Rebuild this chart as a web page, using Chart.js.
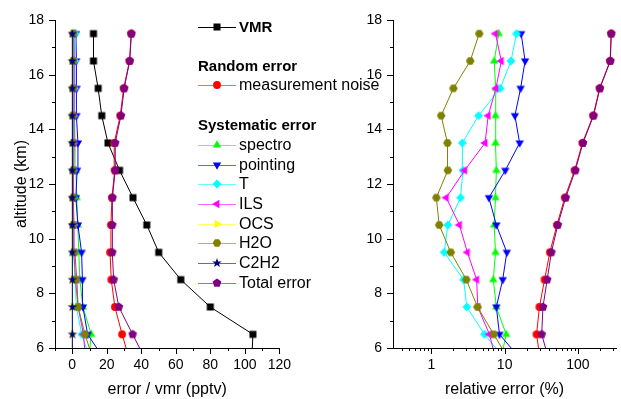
<!DOCTYPE html>
<html>
<head>
<meta charset="utf-8">
<script src="https://cdn.jsdelivr.net/npm/chart.js@4.4.1/dist/chart.umd.min.js"></script>
<style>
  body { margin: 0; background: #fff; }
  #wrap { position: relative; width: 621px; height: 399px; font-family: 'Liberation Sans', Arial, sans-serif; }
  .box { position: absolute; top: 0; height: 399px; }
  #legend .row { position: absolute; left: 198px; height: 20px; line-height: 20px; font-size: 16px; color: #000; white-space: nowrap; }
  #legend .row canvas { position: absolute; left: 0; top: 4px; }
  #legend .row span { position: absolute; left: 41px; top: 0; }
  #legend .head { font-weight: bold; font-size: 15px; }
  #legend .head span { left: 0; }
</style>
</head>
<body>
<div id="wrap">
  <div class="box" style="left:0;width:300px"><canvas id="absChart"></canvas></div>
  <div class="box" style="left:310px;width:311px"><canvas id="relChart"></canvas></div>
  <div id="legend"></div>
</div>
<script>
// altitude levels (km); 5.5 only carries the line down to the axis
const altitude = [5.5, 6.5, 7.5, 8.5, 9.5, 10.5, 11.5, 12.5, 13.5, 14.5, 15.5, 16.5, 17.5];

// left panel: error / vmr (pptv)
const vmr      = [104, 104.7, 80, 62.9, 50.1, 43.2, 35.2, 27.4, 20.7, 17.1, 15, 12.3, 12.3];
const noise    = [33.5, 28.9, 24.7, 22.6, 21.9, 22.4, 23.0, 24.6, 24.3, 27.8, 29.8, 33.2, 34.1];
const spectro  = [9.5, 11.0, 6.2, 4.4, 3.8, 3.2, 2.6, 2.1, 1.6, 1.3, 1.1, 0.9, 1.0];
const pointing = [19.5, 8.9, 6.2, 5.9, 5.4, 3.3, 2.1, 2.8, 3.3, 2.4, 2.5, 2.3, 2.1];
const tempErr  = [10.8, 5.5, 2.4, 1.7, 0.75, 0.73, 0.88, 0.74, 0.55, 0.75, 1.3, 1.5, 1.8];
const ils      = [7.8, 6.5, 3.4, 2.6, 1.55, 1.05, 0.56, 0.78, 1.1, 1.0, 1.1, 1.1, 0.9];
const ocs      = [0.1, 0.1, 0.1, 0.1, 0.08, 0.08, 0.08, 0.06, 0.06, 0.06, 0.05, 0.05, 0.05];
const h2o      = [12.4, 7.4, 3.4, 1.9, 0.92, 0.55, 0.41, 0.46, 0.34, 0.23, 0.3, 0.42, 0.55];
const c2h2     = [0.1, 0.1, 0.1, 0.05, 0.05, 0.05, 0.05, 0.05, 0.05, 0.05, 0.05, 0.05, 0.05];
const total    = [43, 35, 27, 24, 23.2, 23.2, 23.3, 24.9, 24.9, 28.2, 30.1, 33.3, 34.3];

// right panel: relative error (%)
const noiseRel    = [30.8, 27.2, 29.8, 35, 41.3, 51.6, 66, 90, 115, 161, 197, 274, 283];
const spectroRel  = [8.7, 10.5, 7.7, 7.0, 7.5, 7.2, 7.5, 7.7, 7.5, 7.5, 7.6, 7.2, 8.3];
const pointingRel = [17.7, 8.5, 7.7, 9.4, 10.7, 7.7, 6.1, 10.2, 16, 13.8, 16.5, 19, 16.8];
const tempRel     = [10.8, 5.3, 3.05, 2.75, 1.5, 1.68, 2.5, 2.7, 2.65, 4.4, 8.7, 12.2, 14.5];
const ilsRel      = [7.7, 6.2, 4.3, 4.15, 3.1, 2.42, 1.6, 2.85, 5.4, 5.97, 7.6, 9.0, 7.5];
const h2oRel      = [11.8, 7.1, 4.27, 3.0, 1.84, 1.28, 1.17, 1.68, 1.66, 1.36, 2.0, 3.39, 4.5];
const totalRel    = [40.8, 32, 33.3, 38, 43.4, 53, 68, 92, 117, 163, 199, 276, 285];

// ticks
const altTicks = [6, 8, 10, 12, 14, 16, 18];
const altMinor = [7, 9, 11, 13, 15, 17];
const absTicks = [0, 20, 40, 60, 80, 100, 120];
const absMinor = [-10, 10, 30, 50, 70, 90, 110];
const relTicks = [1, 10, 100];
const relMinor = [0.4, 0.5, 0.6, 0.7, 0.8, 0.9, 2, 3, 4, 5, 6, 7, 8, 9,
                  20, 30, 40, 50, 60, 70, 80, 90, 200, 300];

const FONT = "'Liberation Sans', Arial, sans-serif";

// filled marker shapes, drawn once into small canvases
function marker(shape, color) {
  const s = 12, m = s / 2;
  const c = document.createElement('canvas');
  c.width = c.height = s;
  const g = c.getContext('2d');
  g.fillStyle = color;
  g.beginPath();
  const poly = (n, r, rot, inner) => {
    const k = inner ? n * 2 : n;
    for (let i = 0; i < k; i++) {
      const rr = inner && i % 2 ? inner : r;
      const a = rot + i * 2 * Math.PI / k;
      g.lineTo(m + rr * Math.cos(a), m + rr * Math.sin(a));
    }
    g.closePath();
  };
  switch (shape) {
    case 'square': g.rect(m - 3.5, m - 3.5, 7, 7); break;
    case 'circle': g.arc(m, m, 3.9, 0, 2 * Math.PI); break;
    case 'up': poly(3, 4.8, -Math.PI / 2); break;
    case 'down': poly(3, 4.8, Math.PI / 2); break;
    case 'left': poly(3, 4.8, Math.PI); break;
    case 'right': poly(3, 4.8, 0); break;
    case 'diamond': poly(4, 4.4, -Math.PI / 2); break;
    case 'hexagon': poly(6, 4.3, 0); break;
    case 'pentagon': poly(5, 4.6, -Math.PI / 2); break;
    case 'star': poly(5, 5, -Math.PI / 2, 2); break;
  }
  g.fill();
  return c;
}

const styles = {
  vmr:      { name: 'VMR', color: '#000000', shape: 'square' },
  noise:    { name: 'measurement noise', color: '#ff0000', shape: 'circle' },
  spectro:  { name: 'spectro', color: '#00ff00', shape: 'up' },
  pointing: { name: 'pointing', color: '#0000ff', shape: 'down' },
  temp:     { name: 'T', color: '#00ffff', shape: 'diamond' },
  ils:      { name: 'ILS', color: '#ff00ff', shape: 'left' },
  ocs:      { name: 'OCS', color: '#ffff00', shape: 'right' },
  h2o:      { name: 'H2O', color: '#808000', shape: 'hexagon' },
  c2h2:     { name: 'C2H2', color: '#000080', shape: 'star' },
  total:    { name: 'Total error', color: '#800080', shape: 'pentagon' }
};
for (const k in styles) styles[k].img = marker(styles[k].shape, styles[k].color);

function makeSets(list) {
  return list.map(([key, values], i) => ({
    label: styles[key].name,
    data: altitude.map((a, k) => ({ x: values[k], y: a })),
    showLine: true,
    borderColor: styles[key].color,
    backgroundColor: styles[key].color,
    borderWidth: 1,
    pointStyle: styles[key].img,
    pointRadius: 4,
    pointHoverRadius: 4,
    order: list.length - i,
    clip: 0
  }));
}

// major/minor tick marks pointing outwards
const tickMarks = {
  id: 'tickMarks',
  afterDraw(chart, args, opts) {
    const { ctx, chartArea: a, scales: { x, y } } = chart;
    ctx.save();
    ctx.strokeStyle = '#000';
    ctx.lineWidth = 1;
    ctx.beginPath();
    const xt = (v, len) => { const p = Math.round(x.getPixelForValue(v)) + 0.5; ctx.moveTo(p, a.bottom); ctx.lineTo(p, a.bottom + len); };
    const yt = (v, len) => { const p = Math.round(y.getPixelForValue(v)) + 0.5; ctx.moveTo(a.left, p); ctx.lineTo(a.left - len, p); };
    opts.xMajor.forEach(v => xt(v, 6));
    opts.xMinor.forEach(v => xt(v, 3));
    opts.yMajor.forEach(v => yt(v, 6));
    opts.yMinor.forEach(v => yt(v, 3));
    ctx.stroke();
    ctx.restore();
  }
};

function axis(extra) {
  return Object.assign({
    grid: { display: false, drawTicks: false },
    border: { display: true, color: '#000', width: 1 },
    ticks: { color: '#000', font: { family: FONT, size: 14 }, autoSkip: false, maxRotation: 0 }
  }, extra);
}

function baseOptions(xScale, yScale, marks, pad) {
  return {
    responsive: true,
    maintainAspectRatio: false,
    animation: false,
    layout: { padding: pad },
    plugins: { legend: { display: false }, tooltip: { enabled: false }, tickMarks: marks },
    scales: { x: xScale, y: yScale }
  };
}

new Chart(document.getElementById('absChart'), {
  type: 'scatter',
  data: {
    datasets: makeSets([
      ['vmr', vmr], ['noise', noise], ['spectro', spectro], ['pointing', pointing],
      ['temp', tempErr], ['ils', ils], ['ocs', ocs], ['h2o', h2o], ['c2h2', c2h2], ['total', total]
    ])
  },
  options: baseOptions(
    axis({
      type: 'linear', min: -10, max: 120,
      afterBuildTicks: s => { s.ticks = absTicks.map(v => ({ value: v })); },
      afterFit: s => { s.height = 51; },
      ticks: { color: '#000', font: { family: FONT, size: 14 }, padding: 9, autoSkip: false, maxRotation: 0 },
      title: { display: true, text: 'error / vmr (pptv)', color: '#000', font: { family: FONT, size: 16 }, padding: 0 }
    }),
    axis({
      type: 'linear', min: 6, max: 18,
      afterBuildTicks: s => { s.ticks = altTicks.map(v => ({ value: v })); },
      afterFit: s => { s.width = 55; },
      ticks: { color: '#000', font: { family: FONT, size: 14 }, padding: 11, autoSkip: false },
      title: { display: true, text: 'altitude (km)', color: '#000', font: { family: FONT, size: 16 }, padding: { top: 12, bottom: 0 } }
    }),
    { xMajor: absTicks, xMinor: absMinor, yMajor: altTicks, yMinor: altMinor },
    { top: 20, right: 17, left: 0, bottom: 0 }
  ),
  plugins: [tickMarks]
});

new Chart(document.getElementById('relChart'), {
  type: 'scatter',
  data: {
    datasets: makeSets([
      ['noise', noiseRel], ['spectro', spectroRel], ['pointing', pointingRel],
      ['temp', tempRel], ['ils', ilsRel], ['h2o', h2oRel], ['total', totalRel]
    ])
  },
  options: baseOptions(
    axis({
      type: 'logarithmic', min: 0.32, max: 330,
      afterBuildTicks: s => { s.ticks = relTicks.map(v => ({ value: v })); },
      afterFit: s => { s.height = 51; },
      ticks: { color: '#000', font: { family: FONT, size: 14 }, padding: 9, autoSkip: false, maxRotation: 0, callback: v => String(v) },
      title: { display: true, text: 'relative error (%)', color: '#000', font: { family: FONT, size: 16 }, padding: 0 }
    }),
    axis({
      type: 'linear', min: 6, max: 18,
      afterBuildTicks: s => { s.ticks = altTicks.map(v => ({ value: v })); },
      afterFit: s => { s.width = 83; },
      ticks: { color: '#000', font: { family: FONT, size: 14 }, padding: 11, autoSkip: false }
    }),
    { xMajor: relTicks, xMinor: relMinor, yMajor: altTicks, yMinor: altMinor },
    { top: 20, right: 0, left: 0, bottom: 0 }
  ),
  plugins: [tickMarks]
});

// legend with group headers
const legendRows = [
  { key: 'vmr', y: 26.7, bold: true },
  { head: 'Random error', y: 66 },
  { key: 'noise', y: 85 },
  { head: 'Systematic error', y: 125 },
  { key: 'spectro', y: 145 },
  { key: 'pointing', y: 164.5 },
  { key: 'temp', y: 184 },
  { key: 'ils', y: 204 },
  { key: 'ocs', y: 223.5 },
  { key: 'h2o', y: 243.3 },
  { key: 'c2h2', y: 263.3 },
  { key: 'total', y: 283.3 }
];
const legend = document.getElementById('legend');
legendRows.forEach(r => {
  const row = document.createElement('div');
  row.className = 'row' + (r.head || r.bold ? ' head' : '');
  row.style.top = (r.y - 10) + 'px';
  if (r.key) {
    const st = styles[r.key];
    const c = document.createElement('canvas');
    c.width = 38; c.height = 12;
    const g = c.getContext('2d');
    g.strokeStyle = st.color;
    g.globalAlpha = r.key === 'vmr' ? 1 : 0.6;
    g.lineWidth = 1;
    g.beginPath(); g.moveTo(0, 6.5); g.lineTo(38, 6.5); g.stroke();
    g.globalAlpha = 1;
    g.drawImage(st.img, 13, 0);
    row.appendChild(c);
  }
  const t = document.createElement('span');
  t.textContent = r.head || styles[r.key].name;
  if (r.key) t.style.left = '41px';
  row.appendChild(t);
  legend.appendChild(row);
});
</script>
</body>
</html>
